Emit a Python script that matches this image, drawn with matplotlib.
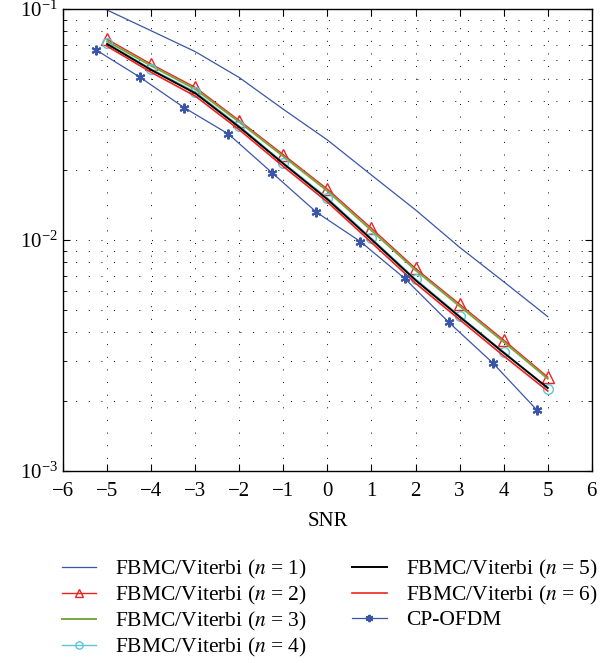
import matplotlib
matplotlib.use("Agg")
import matplotlib.pyplot as plt
import numpy as np
from matplotlib.ticker import LogLocator, NullFormatter, FixedLocator

plt.rcParams['font.family'] = ['Liberation Serif', 'DejaVu Serif']
plt.rcParams['mathtext.fontset'] = 'stix'

snr = [-5, -4, -3, -2, -1, 0, 1, 2, 3, 4, 5]
n1 = [0.099, 0.0805, 0.0654, 0.0505, 0.0368, 0.0271, 0.0191, 0.0135, 0.0093, 0.0066, 0.00466]
n2 = [0.074, 0.0577, 0.0458, 0.0329, 0.0234, 0.0166, 0.01124, 0.00753, 0.00527, 0.00369, 0.00255]
n3 = [0.0725, 0.0568, 0.0450, 0.0324, 0.0230, 0.0163, 0.0110, 0.00740, 0.00517, 0.00362, 0.00251]
n4 = [0.0712, 0.0550, 0.0438, 0.0312, 0.0216, 0.0152, 0.01017, 0.00678, 0.00470, 0.00328, 0.00227]
n5 = [0.0705, 0.0545, 0.0432, 0.0308, 0.0214, 0.0150, 0.01005, 0.00670, 0.00465, 0.00325, 0.00229]
n6 = [0.0690, 0.0532, 0.0420, 0.0300, 0.0208, 0.0146, 0.00975, 0.00650, 0.00452, 0.00315, 0.00222]
snr_ofdm = [-5.25, -4.25, -3.25, -2.25, -1.25, -0.25, 0.75, 1.75, 2.75, 3.75, 4.75]
ofdm = [0.0665, 0.0506, 0.0374, 0.0288, 0.0195, 0.0132, 0.00984, 0.00683, 0.00441, 0.00294, 0.00184]

labels = ['FBMC/Viterbi ($n$ = 1)', 'FBMC/Viterbi ($n$ = 2)', 'FBMC/Viterbi ($n$ = 3)',
          'FBMC/Viterbi ($n$ = 4)', 'FBMC/Viterbi ($n$ = 5)', 'FBMC/Viterbi ($n$ = 6)', 'CP-OFDM']
xticks = [-6, -5, -4, -3, -2, -1, 0, 1, 2, 3, 4, 5, 6]

blue = '#3a56a8'
green = '#78a83c'
red = '#ee2222'
cyan = '#5cc6d6'

fig = plt.figure(figsize=(6.12, 6.63), dpi=100)
ax = fig.add_axes([0.103, 0.2896, 0.864, 0.6968])

ax.semilogy(snr, n1, color=blue, lw=0.9, label=labels[0])
ax.semilogy(snr, n2, color=red, lw=1.0, marker='^', ms=8, mfc='none', mec=red, mew=1.0, label=labels[1])
ax.semilogy(snr, n3, color=green, lw=1.4, label=labels[2])
ax.semilogy(snr, n4, color=cyan, lw=1.0, marker='o', ms=7, mfc='none', mec=cyan, mew=1.0, label=labels[3])
ax.semilogy(snr, n5, color='black', lw=1.4, label=labels[4])
ax.semilogy(snr, n6, color=red, lw=1.2, label=labels[5])
ax.semilogy(snr_ofdm, ofdm, color=blue, lw=0.9, marker=(6, 2, 0), ms=7, mew=1.5, mec=blue, label=labels[6])

ax.set_xlim(-6, 6)
ax.set_ylim(1e-3, 1e-1)
ax.xaxis.set_major_locator(FixedLocator(xticks))
ax.set_xticklabels([('\u2212%d' % -v) if v < 0 else '%d' % v for v in xticks])
ax.yaxis.set_major_locator(LogLocator(base=10, numticks=10))
ax.yaxis.set_minor_locator(LogLocator(base=10, subs=np.arange(2, 10), numticks=20))
ax.yaxis.set_minor_formatter(NullFormatter())

ax.tick_params(which='both', direction='in', top=True, right=True, labelsize=15)
ax.tick_params(which='major', length=5, width=0.8)
ax.tick_params(which='minor', length=3, width=0.6)
ax.tick_params(axis='x', pad=8)
for s in ax.spines.values():
    s.set_linewidth(1.0)

ax.grid(True, which='major', axis='both', color='black', lw=0.7, linestyle=(0, (1, 12)))
ax.grid(True, which='minor', axis='y', color='black', lw=0.7, linestyle=(0, (1, 12)))

ax.set_xlabel('SNR', fontsize=15, labelpad=8)

leg = fig.legend(loc='upper left', bbox_to_anchor=(0.087, 0.172), ncol=2, frameon=False, fontsize=15.5,
                 handlelength=1.6, handletextpad=0.88, columnspacing=2.1, labelspacing=0.15,
                 borderaxespad=0, markerscale=0.75)

fig.savefig('out.png', dpi=100)
